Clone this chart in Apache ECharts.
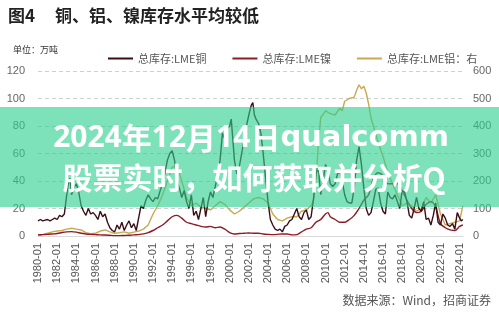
<!DOCTYPE html>
<html><head><meta charset="utf-8">
<script src="https://cdn.jsdelivr.net/npm/echarts@6/dist/echarts.min.js"></script>
<style>html,body{margin:0;padding:0;background:#fff}#c{width:499px;height:314px}</style>
</head><body><div id="c"></div>
<script>
// x tick labels
const xTickLabels = ['1980-01','1982-01','1984-01','1986-01','1988-01','1990-01','1992-01','1994-01','1996-01','1998-01','2000-01','2002-01','2004-01','2006-01','2008-01','2010-01','2012-01','2014-01','2016-01','2018-01','2020-01','2022-01','2024-01'];
const seriesNames = ['总库存:LME铜','总库存:LME镍','总库存:LME铝：右'];

// LME copper (万吨, left axis)
const cuDates = ['1980-01','1980-04','1980-07','1980-10','1981-01','1981-04','1981-07','1981-10','1982-01','1982-04','1982-07','1982-10','1983-01','1983-03','1983-05','1983-07','1983-10','1984-01','1984-04','1984-07','1984-10','1985-01','1985-04','1985-07','1985-10','1986-01','1986-04','1986-07','1986-10','1987-01','1987-04','1987-07','1987-10','1988-01','1988-04','1988-07','1988-10','1989-01','1989-04','1989-07','1989-10','1990-01','1990-04','1990-07','1990-10','1991-01','1991-04','1991-07','1991-10','1992-01','1992-04','1992-07','1992-10','1993-01','1993-04','1993-07','1993-10','1994-01','1994-04','1994-07','1994-10','1995-01','1995-04','1995-07','1995-10','1996-01','1996-04','1996-07','1996-10','1997-01','1997-04','1997-07','1997-10','1998-01','1998-04','1998-07','1998-10','1999-01','1999-04','1999-07','1999-10','2000-01','2000-03','2000-05','2000-07','2000-10','2001-01','2001-04','2001-07','2001-10','2002-01','2002-04','2002-06','2002-08','2002-10','2003-01','2003-04','2003-07','2003-10','2004-01','2004-04','2004-07','2004-10','2005-01','2005-04','2005-07','2005-10','2006-01','2006-04','2006-07','2006-10','2007-01','2007-04','2007-07','2007-10','2008-01','2008-04','2008-07','2008-10','2009-01','2009-04','2009-07','2009-10','2010-01','2010-04','2010-07','2010-10','2011-01','2011-04','2011-07','2011-10','2012-01','2012-04','2012-07','2012-10','2013-01','2013-04','2013-07','2013-10','2014-01','2014-04','2014-07','2014-10','2015-01','2015-04','2015-07','2015-10','2016-01','2016-04','2016-07','2016-10','2017-01','2017-04','2017-07','2017-10','2018-01','2018-04','2018-07','2018-10','2019-01','2019-04','2019-07','2019-10','2020-01','2020-04','2020-07','2020-10','2021-01','2021-04','2021-07','2021-10','2022-01','2022-04','2022-07','2022-10','2023-01','2023-04','2023-07','2023-10','2024-01','2024-03','2024-05'];
const cuValues = [11,12,11,11.5,12,11,12,13,12,15,14,16,30,38,42,30,35,38,32,22,18,15,20,16,17,15,12,18,14,16,10,6,4,3,8,5,10,4,8,11,6,9,4,13,22,20,26,30,27,25,28,27,33,38,46,55,60,62,55,40,35,28,33,25,20,30,15,18,12,20,28,14,25,32,28,36,45,55,75,70,78,80,85,70,55,45,50,60,70,80,88,95,97,88,85,82,75,60,42,25,12,8,5,4,5,3,7,8,11,12,16,20,14,12,17,19,12,14,27,45,50,30,40,52,48,38,36,38,45,47,40,30,25,24,24,35,55,65,52,35,20,15,17,25,34,35,24,18,16,32,28,27,30,25,20,33,32,25,15,13,20,28,20,18,25,12,13,8,15,24,10,8,16,13,8,7,9,5,17,13,11,12];

// LME nickel (万吨, left axis)
const niDates = ['1980-01','1980-07','1981-01','1981-07','1982-01','1982-07','1983-01','1983-07','1984-01','1984-07','1985-01','1985-07','1986-01','1986-07','1987-01','1987-07','1988-01','1988-07','1989-01','1989-07','1990-01','1990-07','1991-01','1991-07','1992-01','1992-07','1993-01','1993-07','1994-01','1994-07','1995-01','1995-07','1996-01','1996-07','1997-01','1997-07','1998-01','1998-07','1999-01','1999-07','2000-01','2000-07','2001-01','2001-07','2002-01','2002-07','2003-01','2003-07','2004-01','2004-07','2005-01','2005-07','2006-01','2006-07','2007-01','2007-07','2008-01','2008-07','2009-01','2009-07','2010-01','2010-04','2010-07','2011-01','2011-07','2012-01','2012-07','2013-01','2013-07','2014-01','2014-07','2015-01','2015-07','2016-01','2016-07','2017-01','2017-07','2018-01','2018-07','2019-01','2019-07','2020-01','2020-07','2021-01','2021-07','2022-01','2022-07','2023-01','2023-07','2024-01','2024-05'];
const niValues = [0.8,1,1.2,1.5,1.8,2.5,3,3.2,2.8,2,1.5,1.2,1,0.8,0.7,0.5,0.3,0.3,0.4,0.5,0.8,1,1.5,2.5,4,6,8,11,14,15,13,10,9,8,7,6.5,7,6,6.5,5,2.5,1.5,1.8,2,2.2,2,2,1.5,1.2,1,1.2,1.5,1.5,0.8,1,3,5,6,10,12,16,17,14,12,10,10,12,15,20,26,30,42,46,44,38,38,38,33,26,20,17,18,23,25,21,9,6,4.5,4,7,8];

// LME aluminium (万吨, right axis)
const alDates = ['1980-01','1980-07','1981-01','1981-07','1982-01','1982-07','1983-01','1983-07','1984-01','1984-07','1985-01','1985-07','1986-01','1986-07','1987-01','1987-07','1988-01','1988-07','1989-01','1989-07','1990-01','1990-07','1991-01','1991-07','1992-01','1992-07','1993-01','1993-07','1994-01','1994-07','1995-01','1995-07','1996-01','1996-07','1997-01','1997-07','1998-01','1998-07','1999-01','1999-07','2000-01','2000-07','2001-01','2001-07','2002-01','2002-07','2003-01','2003-07','2004-01','2004-07','2005-01','2005-07','2006-01','2006-07','2007-01','2007-07','2008-01','2008-07','2008-10','2009-01','2009-04','2009-07','2010-01','2010-07','2011-01','2011-07','2011-10','2012-01','2012-07','2013-01','2013-04','2013-07','2013-10','2014-01','2014-04','2014-07','2014-10','2015-01','2015-07','2016-01','2016-07','2017-01','2017-07','2018-01','2018-07','2019-01','2019-07','2020-01','2020-07','2021-01','2021-07','2022-01','2022-07','2023-01','2023-07','2024-01','2024-05'];
const alValues = [2,5,10,15,18,20,25,28,25,22,12,8,10,18,22,15,10,12,15,10,14,18,25,40,80,110,150,200,250,255,200,140,110,120,105,100,95,110,125,115,95,80,90,105,120,135,140,135,120,80,60,55,65,70,70,90,95,110,130,200,330,430,455,445,440,465,455,490,500,505,530,550,535,545,520,480,430,400,340,290,230,190,150,110,120,110,90,100,140,120,150,80,40,45,50,55,110];

function toYear(s){const p=s.split('-');return +p[0]+(+p[1]-1)/12;}
function pairs(d,v){return d.map((s,i)=>[toYear(s),v[i]]);}

const chart = echarts.init(document.getElementById('c'), null, {renderer:'canvas'});
const cjk = 'Noto Sans CJK SC';
chart.setOption({
  animation:false,
  backgroundColor:'#fff',
  grid:{left:38,right:36,top:71,bottom:78,containLabel:false},
  legend:{
    data:seriesNames, left:103, top:48, itemWidth:25, itemHeight:2, itemGap:26, icon:'rect',
    textStyle:{fontSize:11,color:'#555',fontFamily:cjk}
  },
  xAxis:{
    type:'value', min:1980, max:2024.35, interval:2,
    axisLine:{show:true,lineStyle:{color:'#d9d9d9',width:1}},
    axisTick:{show:false}, splitLine:{show:false},
    axisLabel:{rotate:90, fontSize:11, color:'#555', margin:7, fontFamily:'Liberation Sans',
      showMaxLabel:false,
      formatter:function(v){const r=Math.round(v);if(Math.abs(v-r)>1e-6)return '';const i=(r-1980)/2;return (i>=0&&i<xTickLabels.length&&Number.isInteger(i))?xTickLabels[i]:'';}}
  },
  yAxis:[
    {type:'value',min:0,max:120,interval:20,position:'left',
      axisLine:{show:false},axisTick:{show:false},
      axisLabel:{fontSize:11,color:'#666',margin:13,fontFamily:'Liberation Sans'},
      splitLine:{show:true,lineStyle:{color:'#cfcfcf',type:[4,3],width:1}}},
    {type:'value',min:0,max:600,interval:100,position:'right',
      axisLine:{show:false},axisTick:{show:false},
      axisLabel:{fontSize:11,color:'#666',margin:10,fontFamily:'Liberation Sans'},
      splitLine:{show:false}}
  ],
  series:[
    {name:seriesNames[0],type:'line',yAxisIndex:0,data:pairs(cuDates,cuValues),showSymbol:false,
      lineStyle:{color:'#3b0d14',width:1.4},itemStyle:{color:'#3b0d14'},z:4},
    {name:seriesNames[1],type:'line',yAxisIndex:0,data:pairs(niDates,niValues),showSymbol:false,smooth:0.3,
      lineStyle:{color:'#8e1b25',width:1.4},itemStyle:{color:'#8e1b25'},z:3},
    {name:seriesNames[2],type:'line',yAxisIndex:1,data:pairs(alDates,alValues),showSymbol:false,
      lineStyle:{color:'#c9a852',width:1.4},itemStyle:{color:'#c9a852'},z:2}
  ],
  graphic:[
    {type:'text',x:8,y:16,style:{text:'图4',fontSize:17,fontWeight:'bold',fill:'#222',fontFamily:cjk,verticalAlign:'middle'}},
    {type:'text',x:55,y:16,style:{text:'铜、铝、镍库存水平均较低',fontSize:17,fontWeight:'bold',fill:'#222',fontFamily:cjk,verticalAlign:'middle'}},
    {type:'text',x:13,y:50,style:{text:'单位：万吨',fontSize:9,fill:'#333',fontFamily:cjk,verticalAlign:'middle'}},
    {type:'text',x:491,y:300,style:{text:'数据来源：Wind，招商证券',fontSize:12,fill:'#555',fontFamily:cjk,align:'right',verticalAlign:'middle'}},
    {type:'rect',z:100,shape:{x:0,y:107,width:499,height:100},style:{fill:'rgba(42,206,140,0.61)'}},
    {type:'text',z:101,x:251,y:138,style:{
      text:'{d|2024}{c|年}{d|12}{c|月}{d|14}{c|日}{l|qualcomm}',
      align:'center',verticalAlign:'middle',fill:'#fff',
      rich:{
        d:{fontFamily:'Noto Sans',fontWeight:'bold',fontSize:30,fill:'#fff',color:'#fff'},
        c:{fontFamily:cjk,fontWeight:'bold',fontSize:30,fill:'#fff',color:'#fff'},
        l:{fontFamily:'DejaVu Sans',fontWeight:'bold',fontSize:29,fill:'#fff',color:'#fff'}
      }}},
    {type:'text',z:101,x:254,y:178,style:{text:'股票实时，如何获取并分析Q',fontSize:30,fontWeight:'bold',fill:'#fff',fontFamily:cjk,align:'center',verticalAlign:'middle'}}
  ]
});
</script></body></html>
